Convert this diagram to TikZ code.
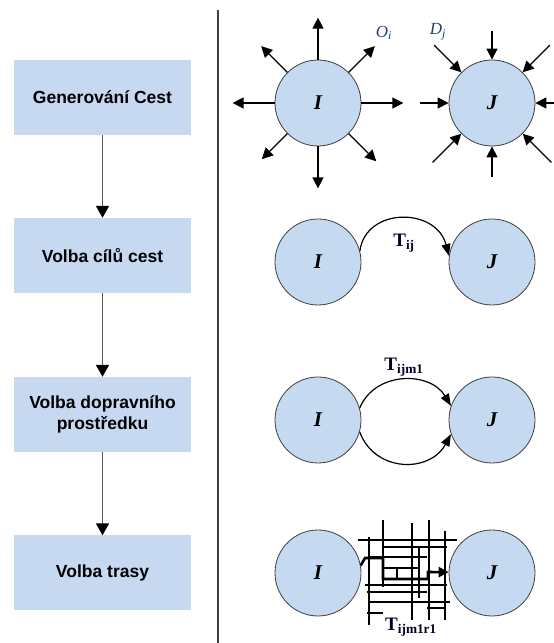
\documentclass[tikz,border=0pt]{standalone}
\usepackage{fontspec}
\setmainfont{Liberation Serif}
\newfontfamily\boxfont{Liberation Sans}
\usetikzlibrary{arrows.meta}
\definecolor{boxblue}{HTML}{C6D9F1}
\definecolor{cityblue}{HTML}{C5D9F0}
\definecolor{labblue}{HTML}{1F3F7F}
\begin{document}
\begin{tikzpicture}[x=1pt,y=1pt,
  stepbox/.style={fill=boxblue, minimum width=177pt, minimum height=75pt,
    font=\boxfont\bfseries\fontsize{17.5}{20.7}\selectfont, align=center, inner sep=0pt},
  flow/.style={draw=black!65, line width=1.8pt, -{Triangle[length=12pt,width=13pt,color=black]}},
  city/.style={circle, fill=cityblue, draw=black!75, line width=0.8pt, minimum size=86pt,
    inner sep=0pt, font=\bfseries\itshape\fontsize{21}{21}\selectfont},
  ray/.style={line width=1.3pt, -{Triangle[length=11pt,width=11pt]}},
  trip/.style={line width=1.2pt, -{Triangle[length=12pt,width=9pt]}},
  grid/.style={line width=1.4pt},
  route/.style={line width=2.6pt, -{Triangle[length=10pt,width=10pt]}},
  tlab/.style={font=\bfseries\fontsize{19}{19}\selectfont, text=black!85!blue},
  odlab/.style={font=\itshape\fontsize{17}{17}\selectfont, text=labblue}
]
\useasboundingbox (0,0) rectangle (554,643);

% divider
\coordinate (dtop) at (218,633);
\coordinate (dbot) at (218,0);
\draw[line width=1.3pt, black!75] (dtop) -- (dbot);

% flowchart
\node[stepbox] (s1) at (102.5,545.5) {Generování Cest};
\node[stepbox] (s2) at (102.5,387.5) {Volba cílů cest};
\node[stepbox] (s3) at (102.5,228.5) {Volba dopravního\\prostředku};
\node[stepbox] (s4) at (102.5,70) {Volba trasy};
\draw[flow] (s1) -- (s2);
\draw[flow] (s2) -- (s3);
\draw[flow] (s3) -- (s4);

% row 1: generation / attraction
\node[city] (I1) at (318,540) {I};
\node[city] (J1) at (492,540) {J};
\foreach \a/\l in {0/42,90/42,180/42,270/42,45/37,135/37,225/36,315/39}
  \draw[ray] (I1.\a) -- ([shift={(\a:\l)}]I1.\a);
\foreach \a/\R in {0/72,90/72,180/72,270/74,45/82,135/82,225/84,315/84}
  \draw[ray] ([shift={(\a:\R)}]J1.center) -- (J1.\a);
\node[odlab] (Ol) at (384,610) {O\textsubscript{\itshape i}};
\node[odlab] (Dl) at (438,611) {D\textsubscript{\itshape j}};

% row 2: distribution
\node[city] (I2) at (318,381) {I};
\node[city] (J2) at (492,381) {J};
\draw[trip] (I2.15) .. controls (366,436) and (436,436) .. (J2.172);
\node[tlab] (T2) at (404,400) {T\textsubscript{ij}};

% row 3: modal split
\node[city] (I3) at (318,223) {I};
\node[city] (J3) at (492,223) {J};
\draw[trip] (I3.16) .. controls (375,272) and (430,272) .. (J3.161);
\draw[trip] (I3.344) .. controls (375,170) and (430,170) .. (J3.199);
\node[tlab] (T3) at (404,276) {T\textsubscript{ijm1}};

% row 4: assignment
\node[city] (I4) at (318,70) {I};
\node[city] (J4) at (492,70) {J};
\begin{scope}[grid]
  % verticals (x, y-from, y-to)
  \foreach \x/\ya/\yb in {369/106/18, 383/123/56, 397/75/64, 412/120/23, 419/95/45, 429/123/23, 445/112/23}
    \draw (\x,\ya) -- (\x,\yb);
  % horizontals (y, x-from, x-to)
  \foreach \y/\xa/\xb in {103/358/457, 96/383/447, 86/370/427, 75/383/420, 58/365/447, 51/367/427, 41/370/450, 35/427/445, 30/367/383}
    \draw (\xa,\y) -- (\xb,\y);
\end{scope}
\draw[route] (I4.10) -- (365,85) -- (383,85) -- (383,64) -- (428,64) -- (428,71) -- (J4.179);
\node[tlab] (T4) at (411,16) {T\textsubscript{ijm1r1}};
\end{tikzpicture}
\end{document}
